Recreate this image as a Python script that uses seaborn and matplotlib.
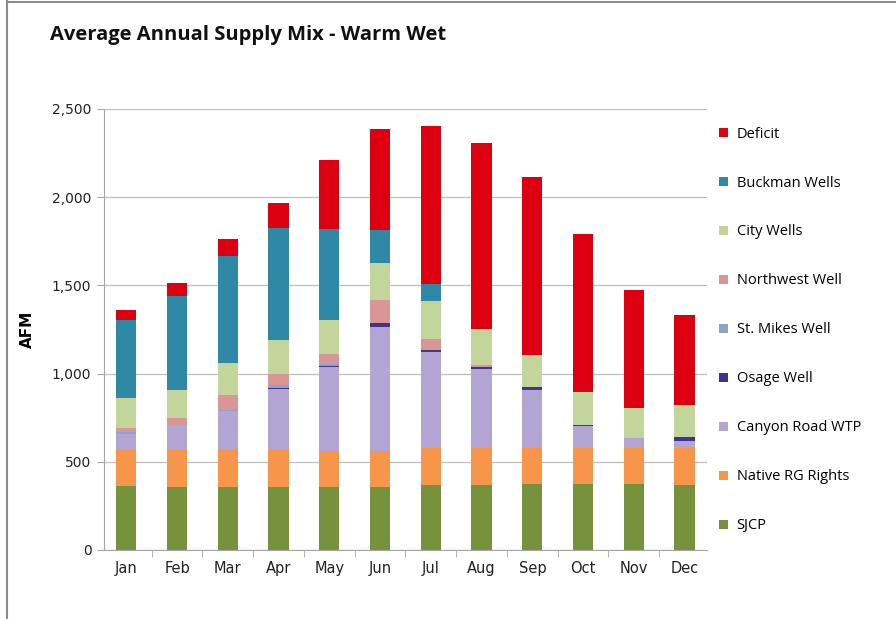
import matplotlib
matplotlib.use("Agg")
import matplotlib.pyplot as plt
import seaborn as sns
import numpy as np
import pandas as pd
from matplotlib.patches import Patch
from matplotlib.lines import Line2D
from matplotlib.ticker import FuncFormatter, FixedLocator

months = ["Jan", "Feb", "Mar", "Apr", "May", "Jun", "Jul", "Aug", "Sep", "Oct", "Nov", "Dec"]

sjcp       = [362, 355, 355, 355, 355, 355, 370, 370, 372, 372, 372, 370]
native_rg  = [208, 215, 220, 220, 205, 205, 210, 210, 207, 207, 207, 210]
canyon_rd  = [ 90, 140, 210, 340, 480, 705, 540, 445, 330, 123,  57,  38]
osage      = [  0,   0,   0,   5,   5,  20,  15,  15,  15,   8,   0,  25]
st_mikes   = [ 10,   0,  10,  15,  10,   0,   0,   0,   0,   0,   0,   0]
northwest  = [ 20,  38,  85,  60,  55, 130,  60,  10,   0,   0,   0,   0]
city_wells = [170, 160, 180, 198, 195, 210, 217, 200, 183, 183, 170, 177]
buckman    = [445, 530, 605, 633, 515, 190,  95,   0,   0,   0,   0,   0]
deficit    = [ 57,  75,  98, 141, 390, 570, 896,1057,1009, 898, 669, 511]

series_names = ["SJCP", "Native RG Rights", "Canyon Road WTP", "Osage Well", "St. Mikes Well",
                "Northwest Well", "City Wells", "Buckman Wells", "Deficit"]
series_vals = [sjcp, native_rg, canyon_rd, osage, st_mikes, northwest, city_wells, buckman, deficit]
colors = ["#76923C", "#F7964A", "#B3A5D3", "#3F3590", "#8FA3C8", "#D99694", "#C2D69B", "#2F88A6", "#DD0010"]

df = pd.DataFrame({"month": months})
for n, v in zip(series_names, series_vals):
    df[n] = v
cum = df[series_names].cumsum(axis=1)

fig = plt.figure(figsize=(8.96, 6.19), dpi=100)
ax = fig.add_axes([0.116, 0.1115, 0.673, 0.7125])
plt.rcParams["font.family"] = ["Open Sans", "DejaVu Sans"]

for n, c in reversed(list(zip(series_names, colors))):
    sns.barplot(x=df["month"], y=cum[n], order=months, color=c, width=0.4,
                saturation=1, ax=ax, edgecolor="none", linewidth=0)

ax.set_ylim(0, 2500)
ax.set_xlim(-0.44, 11.44)
ax.set_yticks([0, 500, 1000, 1500, 2000, 2500])
ax.yaxis.set_major_formatter(FuncFormatter(lambda v, p: f"{int(v):,}"))
ax.grid(axis="y", color="#BFBFBF", linewidth=0.9)
ax.set_axisbelow(True)
for s in ["top", "right"]:
    ax.spines[s].set_visible(False)
for s in ["left", "bottom"]:
    ax.spines[s].set_color("#A6A6A6")
ax.tick_params(axis="y", length=5, color="#A6A6A6", labelsize=10, labelcolor="#222222", pad=4)
ax.tick_params(axis="x", which="major", length=0, labelsize=10.5, labelcolor="#222222", pad=8)
ax.xaxis.set_minor_locator(FixedLocator(np.arange(-0.5, 12, 1.0)))
ax.tick_params(axis="x", which="minor", length=5, color="#A6A6A6")
ax.set_xlabel("")
ax.set_ylabel("AFM", fontsize=11, fontweight="bold", labelpad=12)

fig.text(0.056, 0.944, "Average Annual Supply Mix - Warm Wet", fontsize=14.5, fontweight="bold",
         ha="left", va="center", color="#111111")

handles = [Patch(facecolor=c, edgecolor="none", label=n) for n, c in zip(series_names, colors)]
handles = handles[::-1]
fig.legend(handles=handles, loc="upper left", bbox_to_anchor=(0.796, 0.805), frameon=False,
           fontsize=10.5, handlelength=0.6, handleheight=0.6, handletextpad=0.6,
           labelspacing=2.33, borderaxespad=0)

fig.lines.append(Line2D([0.008, 0.008], [0.0, 0.998], transform=fig.transFigure,
                        color="#8C8C8C", linewidth=1.5))
fig.lines.append(Line2D([0.008, 1.0], [0.997, 0.997], transform=fig.transFigure,
                        color="#8C8C8C", linewidth=1.5))

fig.savefig("out.png", dpi=100)
